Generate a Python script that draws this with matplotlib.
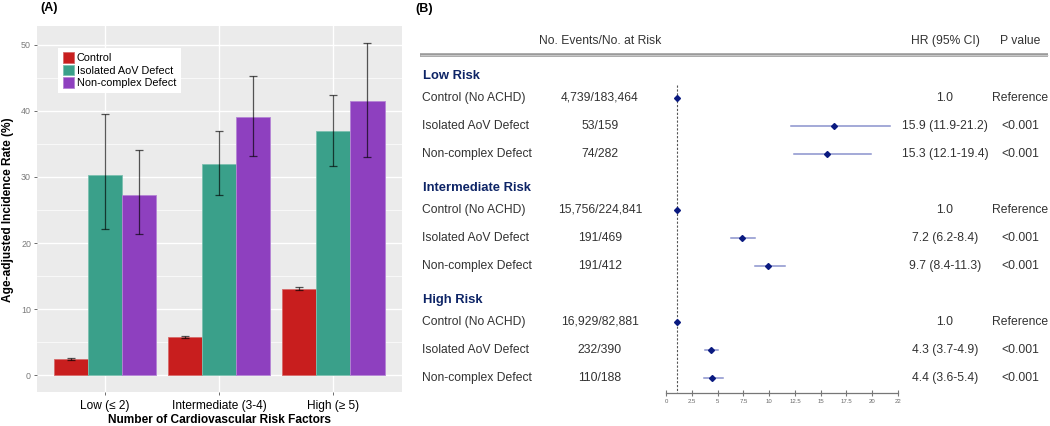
import numpy as np
import matplotlib
matplotlib.use("Agg")
import matplotlib.pyplot as plt
from matplotlib.transforms import blended_transform_factory
from matplotlib.patches import Patch

plt.rcParams['font.family'] = ['Liberation Sans', 'DejaVu Sans']

# ---------------- Panel A data ----------------
categories = ["Low (\u2264 2)", "Intermediate (3-4)", "High (\u2265 5)"]
series_names = ["Control", "Isolated AoV Defect", "Non-complex Defect"]
control_rate = [2.5, 5.8, 13.1]
control_lo = [2.4, 5.7, 12.9]
control_hi = [2.6, 5.9, 13.4]
isolated_rate = [30.3, 31.9, 36.9]
isolated_lo = [22.2, 27.2, 31.7]
isolated_hi = [39.5, 37.0, 42.4]
noncomplex_rate = [27.3, 39.1, 41.4]
noncomplex_lo = [21.4, 33.2, 33.0]
noncomplex_hi = [34.1, 45.2, 50.2]
y_ticks_a = [0, 10, 20, 30, 40, 50]

# ---------------- Panel B data ----------------
groups = ["Low Risk", "Intermediate Risk", "High Risk"]
row_labels = ["Control (No ACHD)", "Isolated AoV Defect", "Non-complex Defect"]
events = [["4,739/183,464", "53/159", "74/282"],
          ["15,756/224,841", "191/469", "191/412"],
          ["16,929/82,881", "232/390", "110/188"]]
hr = [[1.0, 15.9, 15.3], [1.0, 7.2, 9.7], [1.0, 4.3, 4.4]]
hr_lo = [[None, 11.9, 12.1], [None, 6.2, 8.4], [None, 3.7, 3.6]]
hr_hi = [[None, 21.2, 19.4], [None, 8.4, 11.3], [None, 4.9, 5.4]]
hr_text = [["1.0", "15.9 (11.9-21.2)", "15.3 (12.1-19.4)"],
           ["1.0", "7.2 (6.2-8.4)", "9.7 (8.4-11.3)"],
           ["1.0", "4.3 (3.7-4.9)", "4.4 (3.6-5.4)"]]
p_text = [["Reference", "<0.001", "<0.001"],
          ["Reference", "<0.001", "<0.001"],
          ["Reference", "<0.001", "<0.001"]]
x_tick_labels_b = ["0", "2.5", "5", "7.5", "10", "12.5", "15", "17.5", "20", "22"]

W, H = 1050, 426
fig = plt.figure(figsize=(W / 100, H / 100), dpi=100)

def fx(px):
    return px / W

def fy(py):
    return 1 - py / H

# ================= Panel A =================
axA = fig.add_axes([fx(36.6), fy(392), fx(401.7 - 36.6), (392 - 26.4) / H])
axA.set_facecolor('#EBEBEB')
colors = ['#C81E1E', '#3AA08A', '#8E40BF']
edges = ['#d66a6a', '#7cc0b0', '#b484d4']
x = np.arange(len(categories)) + 1
bw = 0.3
data_sets = [(control_rate, control_lo, control_hi),
             (isolated_rate, isolated_lo, isolated_hi),
             (noncomplex_rate, noncomplex_lo, noncomplex_hi)]
for i, (vals, lo, hi) in enumerate(data_sets):
    pos = x + (i - 1) * bw
    vals = np.array(vals); lo = np.array(lo); hi = np.array(hi)
    axA.bar(pos, vals, width=bw, color=colors[i], edgecolor=edges[i],
            linewidth=0.6, zorder=3, label=series_names[i])
    axA.errorbar(pos, vals, yerr=[vals - lo, hi - vals], fmt='none',
                 ecolor=(0, 0, 0, 0.65), elinewidth=0.9, capsize=3.2,
                 capthick=0.9, zorder=4)

axA.set_xlim(0.4, 3.6)
axA.set_ylim(-2.51, 52.75)
axA.set_yticks(y_ticks_a)
axA.set_yticks([5, 15, 25, 35, 45], minor=True)
axA.set_xticks(x)
axA.set_xticklabels(categories, fontsize=8.6, color='black')
axA.tick_params(axis='y', which='major', labelsize=6.4, labelcolor='#7a7a7a',
                length=2.5, width=0.6, color='#555555', pad=1.5)
axA.tick_params(axis='y', which='minor', length=0)
axA.tick_params(axis='x', length=2.5, width=0.6, color='#555555', pad=3)
axA.grid(True, which='major', color='white', linewidth=1.0, zorder=0)
axA.grid(True, which='minor', axis='y', color='white', linewidth=0.5, zorder=0)
axA.set_axisbelow(True)
for s in axA.spines.values():
    s.set_visible(False)
axA.set_xlabel("Number of Cardiovascular Risk Factors", fontsize=8.6,
               fontweight='bold', labelpad=2)
axA.set_ylabel("Age-adjusted Incidence Rate (%)", fontsize=8.6,
               fontweight='bold', labelpad=5)
handles = [Patch(facecolor=colors[i], edgecolor=edges[i], linewidth=0.6)
           for i in range(3)]
leg = axA.legend(handles, series_names, loc='upper left',
                 bbox_to_anchor=((58 - 36.6) / 365.1, (392 - 47.5) / 365.6),
                 borderaxespad=0, fontsize=7.8, frameon=True, fancybox=False,
                 edgecolor='white', facecolor='white', framealpha=1,
                 handlelength=1.0, handleheight=1.1, handletextpad=0.3,
                 labelspacing=0.15, borderpad=0.45)
leg.get_frame().set_linewidth(0)
fig.text(fx(49), fy(8), "(A)", fontsize=9, fontweight='bold',
         ha='center', va='center')

# ================= Panel B =================
ax_x0, ax_x1 = 666, 898
ax_ytop, ax_ybot = 55, 393
axB = fig.add_axes([fx(ax_x0), fy(ax_ybot), fx(ax_x1 - ax_x0),
                    (ax_ybot - ax_ytop) / H])
axB.set_xlim(0, 22)
axB.set_ylim(ax_ybot, ax_ytop)  # vertical layout in pixel rows, top-down
axB.patch.set_visible(False)
for k in ['top', 'right', 'left']:
    axB.spines[k].set_visible(False)
axB.spines['bottom'].set_color('#777777')
axB.spines['bottom'].set_linewidth(0.9)
axB.set_yticks([])
axB.set_xticks(np.linspace(0, 22, len(x_tick_labels_b)))
axB.set_xticklabels(x_tick_labels_b)
axB.tick_params(axis='x', direction='inout', length=5, width=0.8,
                color='#777777', labelsize=4.3, labelcolor='#666666', pad=2)

# row layout (pixel rows)
group_y = [76, 188, 300]
row_offsets = [22, 50, 78]

trF = blended_transform_factory(fig.transFigure, axB.transData)
navy = '#0d2466'
txt_col = '#333333'
fs = 8.7

# header
fig.text(fx(600), fy(41), "No. Events/No. at Risk", fontsize=fs, color=txt_col,
         ha='center', va='center')
fig.text(fx(945), fy(41), "HR (95% CI)", fontsize=fs, color=txt_col,
         ha='center', va='center')
fig.text(fx(1020), fy(41), "P value", fontsize=fs, color=txt_col,
         ha='center', va='center')
axB.plot([fx(420), fx(1048)], [55, 55], transform=trF, color='#9a9a9a',
         linewidth=2.6, clip_on=False, solid_capstyle='butt')
axB.plot([fx(420), fx(1048)], [55, 55], transform=trF, color='#d0d0d0',
         linewidth=0.6, clip_on=False, solid_capstyle='butt')

# reference line at HR = 1
axB.plot([1, 1], [85, ax_ybot], color='#555555', linewidth=0.8,
         linestyle=(0, (2.0, 1.5)), zorder=1)

for g in range(3):
    axB.text(fx(423), group_y[g], groups[g], transform=trF, fontsize=9.4,
             fontweight='bold', color=navy, ha='left', va='center')
    for r in range(3):
        y = group_y[g] + row_offsets[r]
        axB.text(fx(422), y, row_labels[r], transform=trF, fontsize=fs,
                 color=txt_col, ha='left', va='center')
        axB.text(fx(600), y, events[g][r], transform=trF, fontsize=fs,
                 color=txt_col, ha='center', va='center')
        axB.text(fx(945), y, hr_text[g][r], transform=trF, fontsize=fs,
                 color=txt_col, ha='center', va='center')
        axB.text(fx(1020), y, p_text[g][r], transform=trF, fontsize=fs,
                 color=txt_col, ha='center', va='center')
        if hr_lo[g][r] is not None:
            axB.plot([hr_lo[g][r], hr_hi[g][r]], [y, y], color='#5a64b8',
                     alpha=0.7, linewidth=1.1, zorder=2)
        axB.plot([hr[g][r]], [y], marker='D', markersize=3.0, color='#0a1a80',
                 zorder=3, clip_on=False)

fig.text(fx(424), fy(9), "(B)", fontsize=9, fontweight='bold',
         ha='center', va='center')

fig.savefig("out.png", dpi=100)
